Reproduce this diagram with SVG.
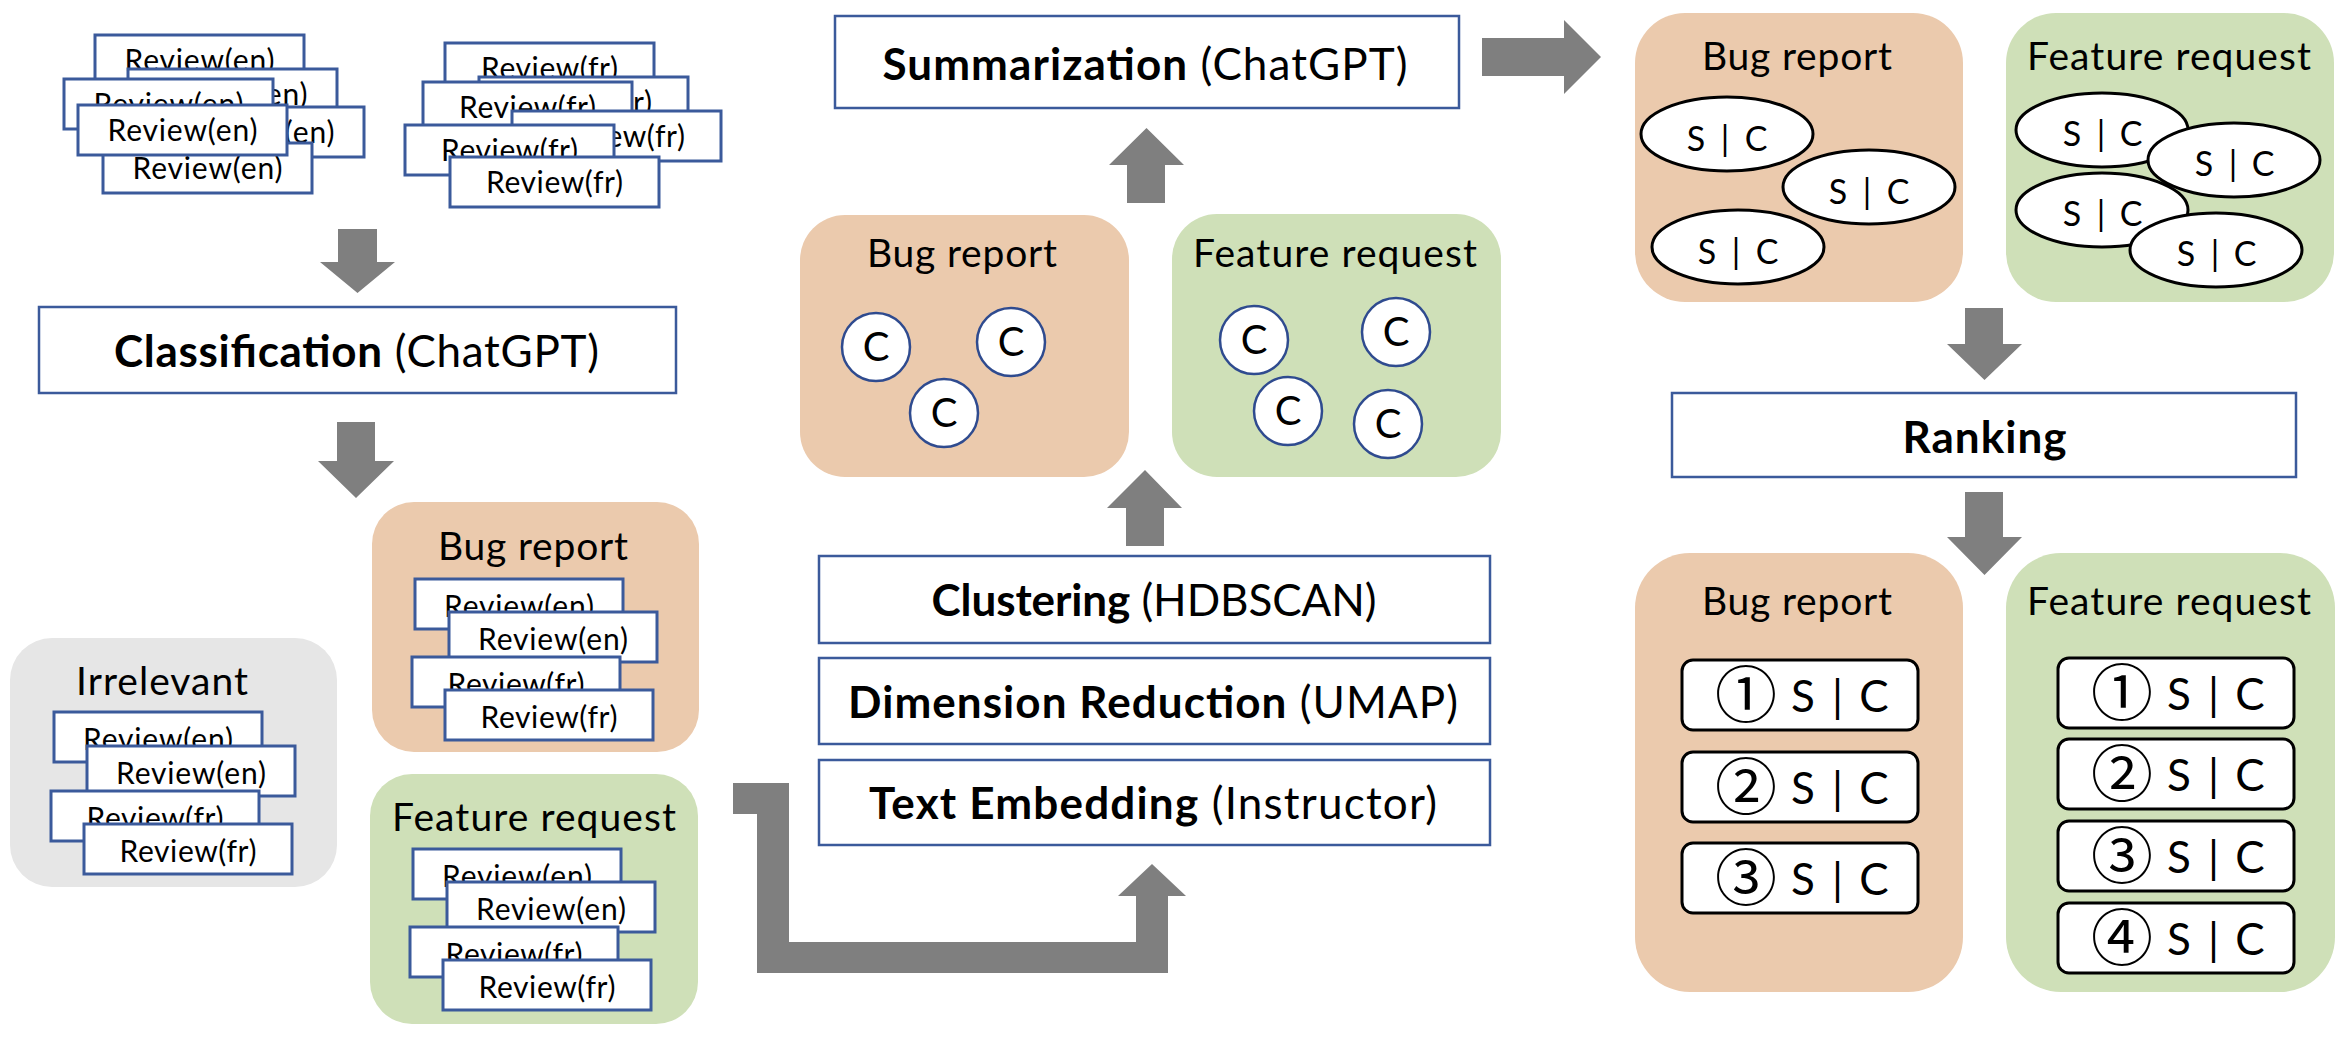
<svg xmlns="http://www.w3.org/2000/svg" width="2347" height="1038" viewBox="0 0 2347 1038">
<style>
text{font-family:Lato,"Liberation Sans",sans-serif;fill:#000}
.rv{fill:#fff;stroke:#3B5A9B;stroke-width:3}
.rt{font-size:30px;text-anchor:middle}
.pb{fill:#fff;stroke:#3B5A9B;stroke-width:2.5}
.pt{font-size:44px;text-anchor:middle}
.b{font-weight:bold}
.bug{fill:#EBCAAD}
.feat{fill:#CFE0B8}
.irr{fill:#E6E6E6}
.lbl{font-size:39px;text-anchor:middle}
.arr{fill:#7F7F7F}
.cc{fill:#fff;stroke:#2F4B8F;stroke-width:2.5}
.ct{font-size:40px;text-anchor:middle}
.el{fill:#fff;stroke:#000;stroke-width:3}
.st{font-size:34px;text-anchor:middle}
.rk{fill:#fff;stroke:#000;stroke-width:3}
.kt{font-size:44px;text-anchor:middle}
.cn{font-family:"Noto Sans CJK JP",sans-serif;font-size:62px;text-anchor:middle}
</style>

<g id="connectors">
  <polygon class="arr" points="338,229 377,229 377,262 395,262 357.5,293 320,262 338,262"/>
  <polygon class="arr" points="337,422 375,422 375,461 394,461 356,498 318,461 337,461"/>
  <polygon class="arr" points="733,783 789,783 789,942 1136,942 1136,896 1118,896 1152,864 1186,896 1168,896 1168,973 757,973 757,814 733,814"/>
  <polygon class="arr" points="1126,546 1164,546 1164,508 1182,508 1145,470 1107,508 1126,508"/>
  <polygon class="arr" points="1127,203 1165,203 1165,165 1184,165 1146.5,128 1109,165 1127,165"/>
  <polygon class="arr" points="1482,38 1564,38 1564,20 1601,57 1564,94 1564,76 1482,76"/>
  <polygon class="arr" points="1965,308 2003,308 2003,344 2022,344 1984.5,380 1947,344 1965,344"/>
  <polygon class="arr" points="1965,492 2003,492 2003,537 2022,537 1984.5,575 1947,537 1965,537"/>
</g>

<g id="reviews-en">
  <rect class="rv" x="95" y="35" width="209" height="50"/><text class="rt" x="199.5" y="71" textLength="150">Review(en)</text>
  <rect class="rv" x="128" y="69" width="209" height="50"/><text class="rt" x="232.5" y="105" textLength="150">Review(en)</text>
  <rect class="rv" x="64" y="79" width="209" height="50"/><text class="rt" x="168.5" y="115" textLength="150">Review(en)</text>
  <rect class="rv" x="155" y="107" width="209" height="50"/><text class="rt" x="259.5" y="143" textLength="150">Review(en)</text>
  <rect class="rv" x="103" y="143" width="209" height="50"/><text class="rt" x="207.5" y="179" textLength="150">Review(en)</text>
  <rect class="rv" x="78" y="105" width="209" height="50"/><text class="rt" x="182.5" y="141" textLength="150">Review(en)</text>
</g>

<g id="reviews-fr">
  <rect class="rv" x="445" y="43" width="209" height="50"/><text class="rt" x="549.5" y="79" textLength="137">Review(fr)</text>
  <rect class="rv" x="479" y="77" width="209" height="50"/><text class="rt" x="583.5" y="113" textLength="137">Review(fr)</text>
  <rect class="rv" x="423" y="82" width="209" height="50"/><text class="rt" x="527.5" y="118" textLength="137">Review(fr)</text>
  <rect class="rv" x="512" y="111" width="209" height="50"/><text class="rt" x="616.5" y="147" textLength="137">Review(fr)</text>
  <rect class="rv" x="405" y="125" width="209" height="50"/><text class="rt" x="509.5" y="161" textLength="137">Review(fr)</text>
  <rect class="rv" x="450" y="157" width="209" height="50"/><text class="rt" x="554.5" y="193" textLength="137">Review(fr)</text>
</g>

<g id="classification">
  <rect class="pb" x="39" y="307" width="637" height="86"/>
  <text class="pt" x="356.5" y="367" textLength="485"><tspan class="b">Classification</tspan> (ChatGPT)</text>
</g>

<g id="irrelevant">
  <rect class="irr" x="10" y="638" width="327" height="249" rx="42"/>
  <text class="lbl" x="162" y="695" textLength="172">Irrelevant</text>
  <rect class="rv" x="54" y="712" width="208" height="50"/><text class="rt" x="158" y="750" textLength="150">Review(en)</text>
  <rect class="rv" x="87" y="746" width="208" height="50"/><text class="rt" x="191" y="784" textLength="150">Review(en)</text>
  <rect class="rv" x="51" y="791" width="208" height="50"/><text class="rt" x="155" y="829" textLength="137">Review(fr)</text>
  <rect class="rv" x="84" y="824" width="208" height="50"/><text class="rt" x="188" y="862" textLength="137">Review(fr)</text>
</g>

<g id="bug-classified">
  <rect class="bug" x="372" y="502" width="327" height="250" rx="42"/>
  <text class="lbl" x="533" y="560" textLength="190">Bug report</text>
  <rect class="rv" x="415" y="579" width="208" height="50"/><text class="rt" x="519" y="617" textLength="150">Review(en)</text>
  <rect class="rv" x="449" y="612" width="208" height="50"/><text class="rt" x="553" y="650" textLength="150">Review(en)</text>
  <rect class="rv" x="412" y="657" width="208" height="50"/><text class="rt" x="516" y="695" textLength="137">Review(fr)</text>
  <rect class="rv" x="445" y="690" width="208" height="50"/><text class="rt" x="549" y="728" textLength="137">Review(fr)</text>
</g>

<g id="feature-classified">
  <rect class="feat" x="370" y="774" width="328" height="250" rx="42"/>
  <text class="lbl" x="534" y="831" textLength="284">Feature request</text>
  <rect class="rv" x="413" y="849" width="208" height="50"/><text class="rt" x="517" y="887" textLength="150">Review(en)</text>
  <rect class="rv" x="447" y="882" width="208" height="50"/><text class="rt" x="551" y="920" textLength="150">Review(en)</text>
  <rect class="rv" x="410" y="927" width="208" height="50"/><text class="rt" x="514" y="965" textLength="137">Review(fr)</text>
  <rect class="rv" x="443" y="960" width="208" height="50"/><text class="rt" x="547" y="998" textLength="137">Review(fr)</text>
</g>

<g id="text-embedding">
  <rect class="pb" x="819" y="760" width="671" height="85"/>
  <text class="pt" x="1153" y="819" textLength="568"><tspan class="b">Text Embedding</tspan> (Instructor)</text>
</g>
<g id="dimension-reduction">
  <rect class="pb" x="819" y="658" width="671" height="86"/>
  <text class="pt" x="1153" y="718" textLength="610"><tspan class="b">Dimension Reduction</tspan> (UMAP)</text>
</g>
<g id="clustering">
  <rect class="pb" x="819" y="556" width="671" height="87"/>
  <text class="pt" x="1154" y="616" textLength="445"><tspan class="b">Clustering</tspan> (HDBSCAN)</text>
</g>

<g id="bug-clusters">
  <rect class="bug" x="800" y="215" width="329" height="262" rx="45"/>
  <text class="lbl" x="962" y="267" textLength="190">Bug report</text>
  <circle class="cc" cx="876" cy="347" r="34"/><text class="ct" x="876" y="361">C</text>
  <circle class="cc" cx="1011" cy="342" r="34"/><text class="ct" x="1011" y="356">C</text>
  <circle class="cc" cx="944" cy="413" r="34"/><text class="ct" x="944" y="427">C</text>
</g>

<g id="feature-clusters">
  <rect class="feat" x="1172" y="214" width="329" height="263" rx="45"/>
  <text class="lbl" x="1335" y="267" textLength="284">Feature request</text>
  <circle class="cc" cx="1254" cy="340" r="34"/><text class="ct" x="1254" y="354">C</text>
  <circle class="cc" cx="1396" cy="332" r="34"/><text class="ct" x="1396" y="346">C</text>
  <circle class="cc" cx="1288" cy="411" r="34"/><text class="ct" x="1288" y="425">C</text>
  <circle class="cc" cx="1388" cy="424" r="34"/><text class="ct" x="1388" y="438">C</text>
</g>

<g id="summarization">
  <rect class="pb" x="835" y="16" width="624" height="92"/>
  <text class="pt" x="1145" y="80" textLength="525"><tspan class="b">Summarization</tspan> (ChatGPT)</text>
</g>

<g id="bug-summaries">
  <rect class="bug" x="1635" y="13" width="328" height="289" rx="50"/>
  <text class="lbl" x="1797" y="70" textLength="190">Bug report</text>
  <ellipse class="el" cx="1727" cy="134" rx="86" ry="37"/><text class="st" y="151"><tspan x="1696">S</tspan><tspan x="1711"> </tspan><tspan x="1725">|</tspan><tspan x="1740"> </tspan><tspan x="1756">C</tspan></text>
  <ellipse class="el" cx="1869" cy="187" rx="86" ry="37"/><text class="st" y="204"><tspan x="1838">S</tspan><tspan x="1853"> </tspan><tspan x="1867">|</tspan><tspan x="1882"> </tspan><tspan x="1898">C</tspan></text>
  <ellipse class="el" cx="1738" cy="247" rx="86" ry="37"/><text class="st" y="264"><tspan x="1707">S</tspan><tspan x="1722"> </tspan><tspan x="1736">|</tspan><tspan x="1751"> </tspan><tspan x="1767">C</tspan></text>
</g>

<g id="feature-summaries">
  <rect class="feat" x="2006" y="13" width="328" height="289" rx="50"/>
  <text class="lbl" x="2169" y="70" textLength="284">Feature request</text>
  <ellipse class="el" cx="2102" cy="130" rx="86" ry="37"/><text class="st" y="146"><tspan x="2072">S</tspan><tspan x="2087"> </tspan><tspan x="2101">|</tspan><tspan x="2116"> </tspan><tspan x="2131">C</tspan></text>
  <ellipse class="el" cx="2102" cy="210" rx="86" ry="37"/><text class="st" y="226"><tspan x="2072">S</tspan><tspan x="2087"> </tspan><tspan x="2101">|</tspan><tspan x="2116"> </tspan><tspan x="2131">C</tspan></text>
  <ellipse class="el" cx="2234" cy="160" rx="86" ry="37"/><text class="st" y="176"><tspan x="2204">S</tspan><tspan x="2219"> </tspan><tspan x="2233">|</tspan><tspan x="2248"> </tspan><tspan x="2263">C</tspan></text>
  <ellipse class="el" cx="2216" cy="250" rx="86" ry="37"/><text class="st" y="266"><tspan x="2186">S</tspan><tspan x="2201"> </tspan><tspan x="2215">|</tspan><tspan x="2230"> </tspan><tspan x="2245">C</tspan></text>
</g>

<g id="ranking">
  <rect class="pb" x="1672" y="393" width="624" height="84"/>
  <text class="pt b" x="1984.5" y="453" textLength="164">Ranking</text>
</g>

<g id="bug-ranked">
  <rect class="bug" x="1635" y="553" width="328" height="439" rx="55"/>
  <text class="lbl" x="1797" y="615" textLength="190">Bug report</text>
  <rect class="rk" x="1682" y="660" width="236" height="70" rx="11"/>
  <text class="kt" y="712"><tspan class="cn" x="1746" y="718">①</tspan><tspan x="1775" y="712"> </tspan><tspan x="1803">S</tspan><tspan x="1820"> </tspan><tspan x="1837.5">|</tspan><tspan x="1856"> </tspan><tspan x="1874">C</tspan></text>
  <rect class="rk" x="1682" y="752" width="236" height="70" rx="11"/>
  <text class="kt" y="804"><tspan class="cn" x="1746" y="810">②</tspan><tspan x="1775" y="804"> </tspan><tspan x="1803">S</tspan><tspan x="1820"> </tspan><tspan x="1837.5">|</tspan><tspan x="1856"> </tspan><tspan x="1874">C</tspan></text>
  <rect class="rk" x="1682" y="843" width="236" height="70" rx="11"/>
  <text class="kt" y="895"><tspan class="cn" x="1746" y="901">③</tspan><tspan x="1775" y="895"> </tspan><tspan x="1803">S</tspan><tspan x="1820"> </tspan><tspan x="1837.5">|</tspan><tspan x="1856"> </tspan><tspan x="1874">C</tspan></text>
</g>

<g id="feature-ranked">
  <rect class="feat" x="2006" y="553" width="329" height="439" rx="55"/>
  <text class="lbl" x="2169" y="615" textLength="284">Feature request</text>
  <rect class="rk" x="2058" y="658" width="236" height="70" rx="11"/>
  <text class="kt" y="710"><tspan class="cn" x="2122" y="716">①</tspan><tspan x="2151" y="710"> </tspan><tspan x="2179">S</tspan><tspan x="2196"> </tspan><tspan x="2213.5">|</tspan><tspan x="2232"> </tspan><tspan x="2250">C</tspan></text>
  <rect class="rk" x="2058" y="739" width="236" height="70" rx="11"/>
  <text class="kt" y="791"><tspan class="cn" x="2122" y="797">②</tspan><tspan x="2151" y="791"> </tspan><tspan x="2179">S</tspan><tspan x="2196"> </tspan><tspan x="2213.5">|</tspan><tspan x="2232"> </tspan><tspan x="2250">C</tspan></text>
  <rect class="rk" x="2058" y="821" width="236" height="70" rx="11"/>
  <text class="kt" y="873"><tspan class="cn" x="2122" y="879">③</tspan><tspan x="2151" y="873"> </tspan><tspan x="2179">S</tspan><tspan x="2196"> </tspan><tspan x="2213.5">|</tspan><tspan x="2232"> </tspan><tspan x="2250">C</tspan></text>
  <rect class="rk" x="2058" y="903" width="236" height="70" rx="11"/>
  <text class="kt" y="955"><tspan class="cn" x="2122" y="961">④</tspan><tspan x="2151" y="955"> </tspan><tspan x="2179">S</tspan><tspan x="2196"> </tspan><tspan x="2213.5">|</tspan><tspan x="2232"> </tspan><tspan x="2250">C</tspan></text>
</g>
</svg>
